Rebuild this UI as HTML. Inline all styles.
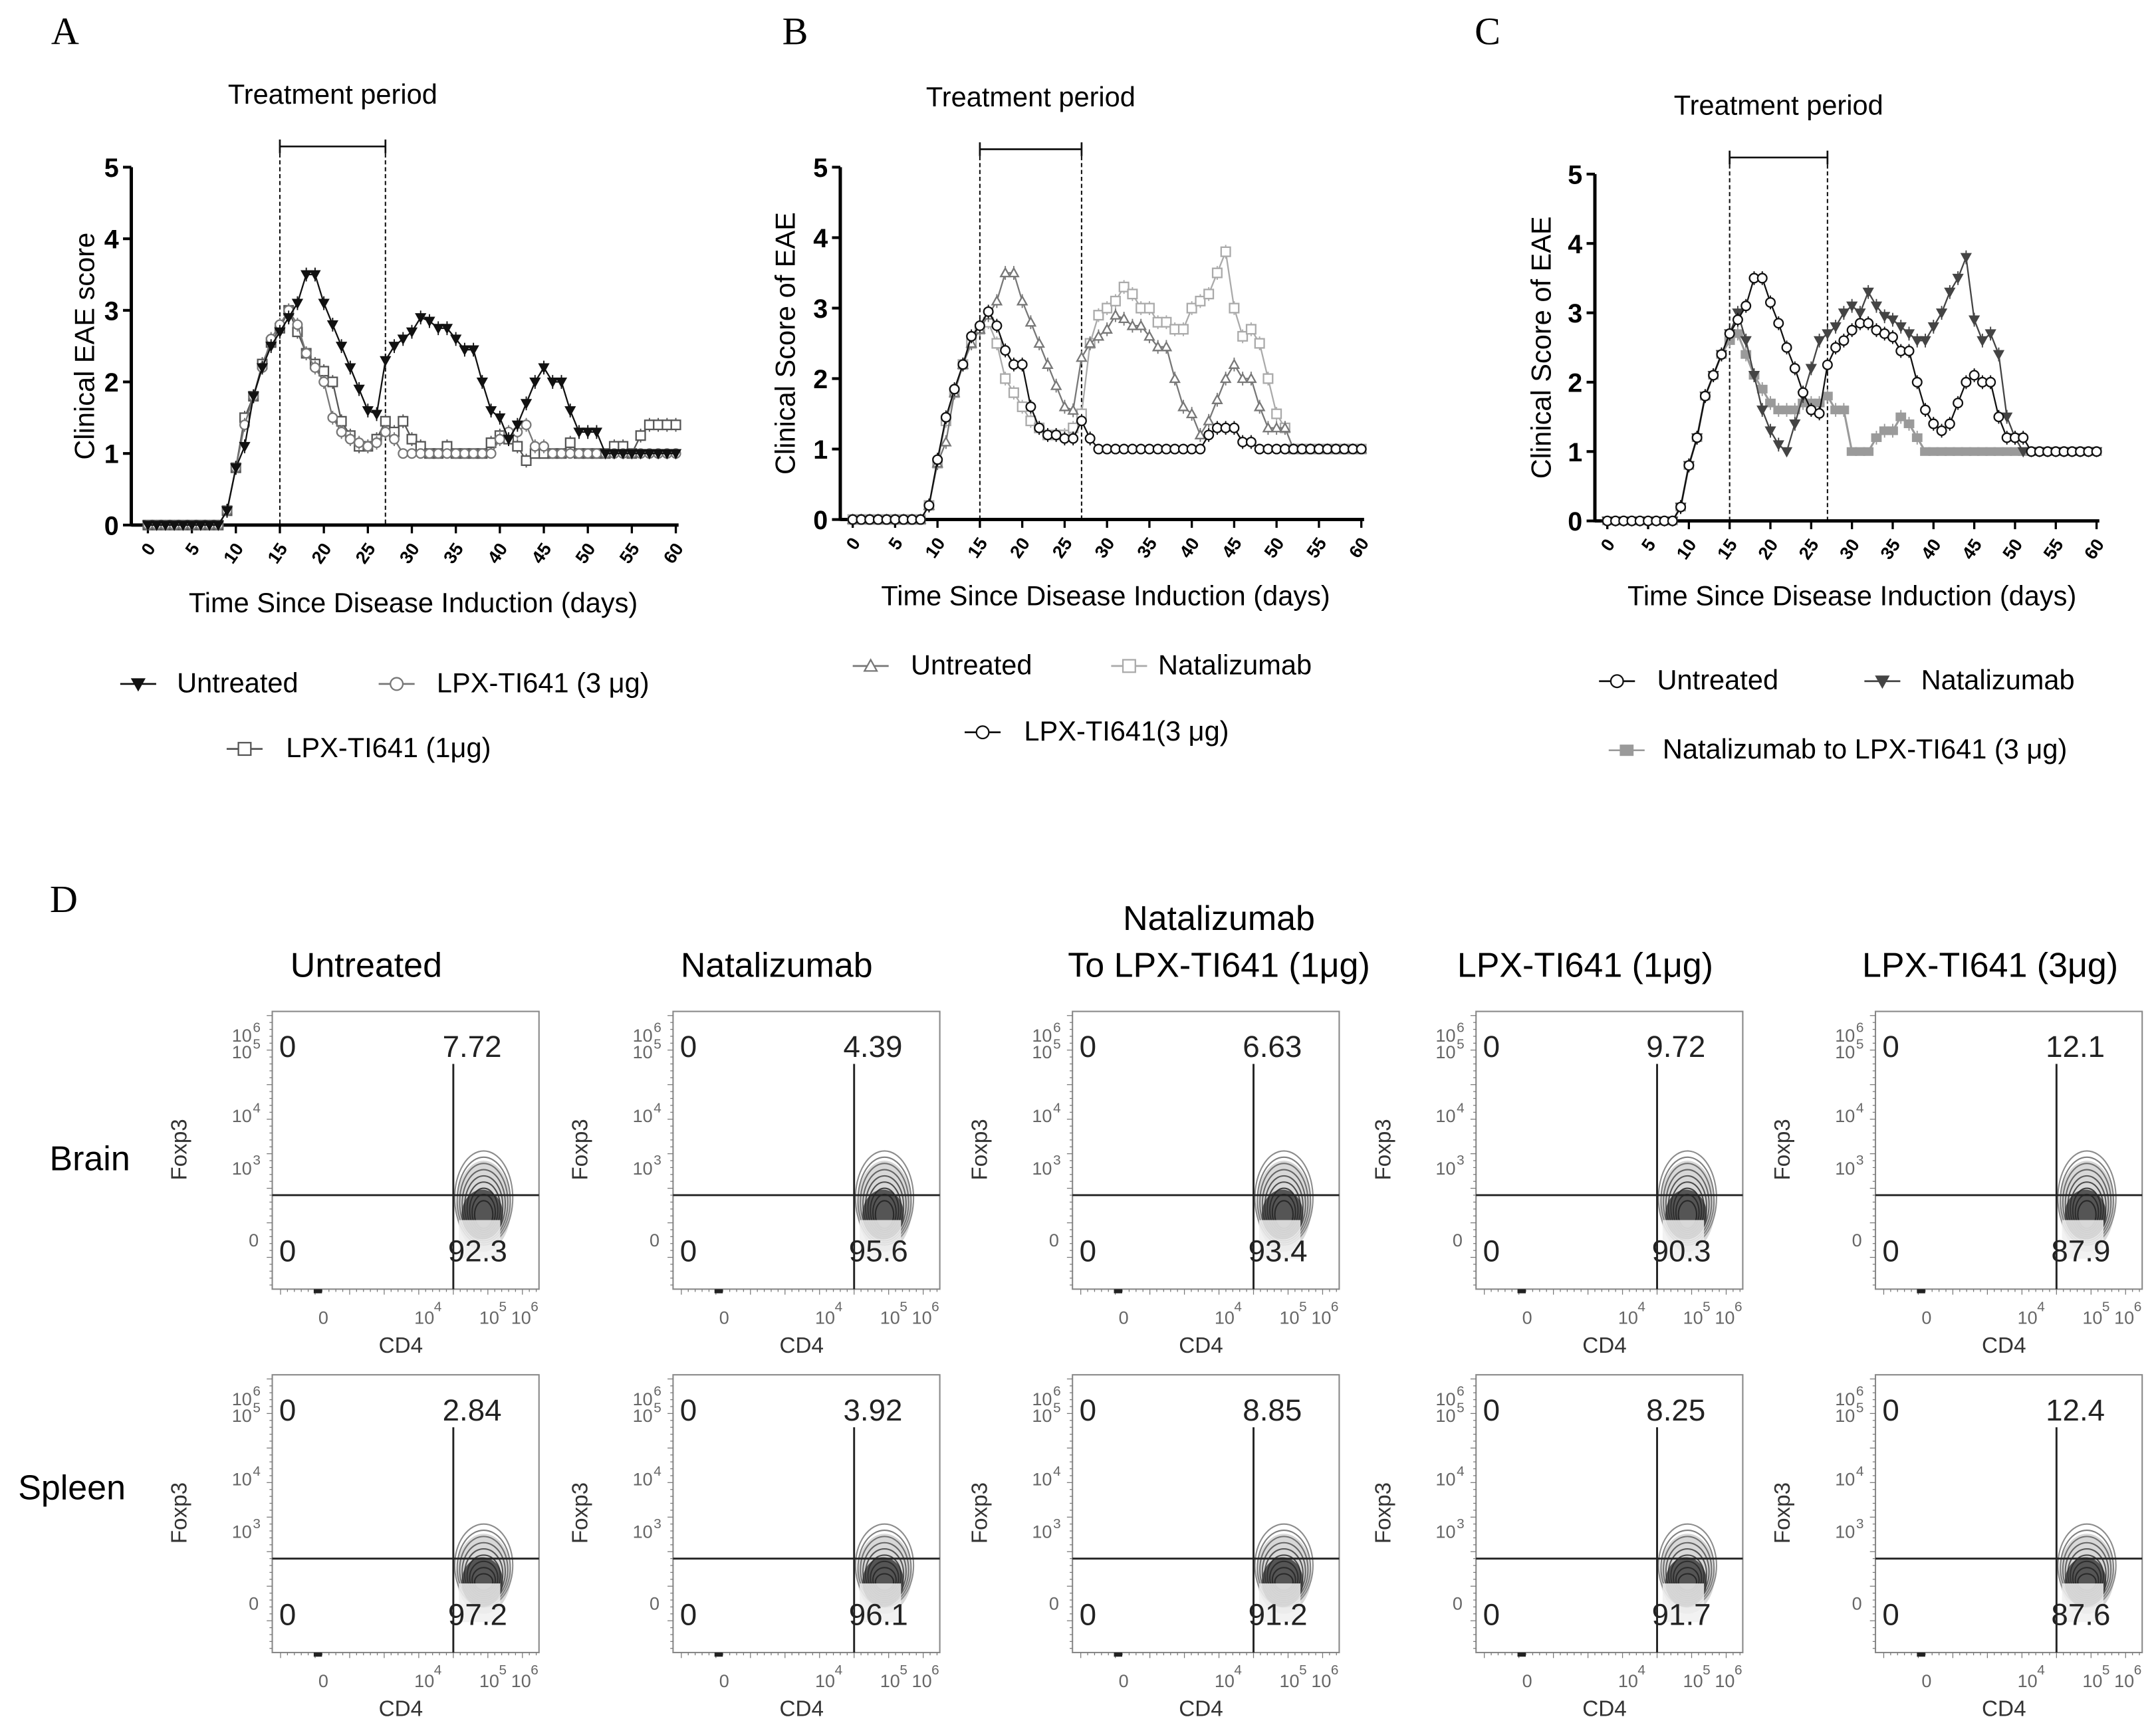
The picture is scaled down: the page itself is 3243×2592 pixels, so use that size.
<!DOCTYPE html>
<html><head><meta charset="utf-8"><style>
html,body{margin:0;padding:0;background:#fff}
svg{display:block}
svg text{font-family:"Liberation Sans",sans-serif}
svg text.serif{font-family:"Liberation Serif",serif}
</style></head><body>
<svg id="fig" width="3243" height="2592" viewBox="0 0 1560 1247" preserveAspectRatio="none" xmlns="http://www.w3.org/2000/svg">
<rect width="1560" height="1247" fill="#fff"/>
<g id="charts"></g>
<g id="flow"></g>
</svg>
<script>
// ---- Chart data ----
const days = Array.from({length:61},(_,i)=>i);
const xTicks = [0,5,10,15,20,25,30,35,40,45,50,55,60];
const yTicks = [0,1,2,3,4,5];
const aUntreated = [0,0,0,0,0,0,0,0,0,0.2,0.8,1.1,1.8,2.2,2.5,2.7,2.9,3.1,3.5,3.5,3.1,2.8,2.5,2.2,1.9,1.6,1.55,2.3,2.5,2.6,2.7,2.9,2.85,2.75,2.75,2.6,2.45,2.45,2.0,1.6,1.5,1.2,1.4,1.7,2.0,2.2,2.0,2.0,1.6,1.3,1.3,1.3,1.0,1.0,1.0,1.0,1.0,1.0,1.0,1.0,1.0];
const a3ug = [0,0,0,0,0,0,0,0,0,0.2,0.8,1.4,1.8,2.2,2.6,2.8,3.0,2.8,2.4,2.2,2.0,1.5,1.3,1.2,1.15,1.1,1.15,1.3,1.2,1.0,1.0,1.0,1.0,1.0,1.0,1.0,1.0,1.0,1.0,1.0,1.2,1.3,1.3,1.4,1.1,1.1,1.0,1.0,1.0,1.0,1.0,1.0,1.0,1.0,1.0,1.0,1.0,1.0,1.0,1.0,1.0];
const a1ug = [0,0,0,0,0,0,0,0,0,0.2,0.8,1.5,1.8,2.25,2.55,2.75,3.0,2.7,2.4,2.25,2.15,2.0,1.45,1.25,1.1,1.1,1.2,1.45,1.3,1.45,1.2,1.1,1.0,1.0,1.1,1.0,1.0,1.0,1.0,1.15,1.25,1.2,1.1,0.9,1.0,1.0,1.0,1.0,1.15,1.0,1.0,1.0,1.0,1.1,1.1,1.0,1.25,1.4,1.4,1.4,1.4];
const bUntreated = aUntreated;
const bNatalizumab = [0,0,0,0,0,0,0,0,0,0.2,0.8,1.4,1.8,2.2,2.5,2.7,2.8,2.5,2.0,1.8,1.6,1.4,1.3,1.2,1.2,1.2,1.3,1.5,2.5,2.9,3.0,3.1,3.3,3.2,3.0,3.0,2.8,2.8,2.7,2.7,3.0,3.1,3.2,3.5,3.8,3.0,2.6,2.7,2.5,2.0,1.5,1.3,1.0,1.0,1.0,1.0,1.0,1.0,1.0,1.0,1.0];
const bLpx3 = [0,0,0,0,0,0,0,0,0,0.2,0.85,1.45,1.85,2.2,2.6,2.75,2.95,2.75,2.4,2.2,2.2,1.6,1.3,1.2,1.2,1.15,1.15,1.4,1.15,1.0,1.0,1.0,1.0,1.0,1.0,1.0,1.0,1.0,1.0,1.0,1.0,1.0,1.2,1.3,1.3,1.3,1.1,1.1,1.0,1.0,1.0,1.0,1.0,1.0,1.0,1.0,1.0,1.0,1.0,1.0,1.0];
const cUntreated = [0,0,0,0,0,0,0,0,0,0.2,0.8,1.2,1.8,2.1,2.4,2.7,2.9,3.1,3.5,3.5,3.15,2.85,2.5,2.2,1.85,1.6,1.55,2.25,2.5,2.6,2.75,2.85,2.85,2.75,2.7,2.65,2.45,2.45,2.0,1.6,1.4,1.3,1.4,1.7,2.0,2.1,2.0,2.0,1.5,1.2,1.2,1.2,1.0,1.0,1.0,1.0,1.0,1.0,1.0,1.0,1.0];
const cNatalizumab = [0,0,0,0,0,0,0,0,0,0.2,0.8,1.2,1.8,2.1,2.4,2.7,3.0,2.6,2.1,1.6,1.3,1.1,1.0,1.4,1.8,2.2,2.6,2.7,2.8,3.0,3.1,3.0,3.3,3.1,2.95,2.9,2.8,2.7,2.6,2.6,2.8,3.0,3.3,3.5,3.8,2.9,2.6,2.7,2.4,1.5,1.2,1.0,1.0,1.0,1.0,1.0,1.0,1.0,1.0,1.0,1.0];
const cNatToLpx = [0,0,0,0,0,0,0,0,0,0.2,0.8,1.2,1.8,2.1,2.4,2.6,2.7,2.4,2.1,1.9,1.7,1.6,1.6,1.6,1.7,1.7,1.7,1.8,1.6,1.6,1.0,1.0,1.0,1.2,1.3,1.3,1.5,1.4,1.2,1.0,1.0,1.0,1.0,1.0,1.0,1.0,1.0,1.0,1.0,1.0,1.0,1.0,1.0,1.0,1.0,1.0,1.0,1.0,1.0,1.0,1.0];
// ---- Flow data ----
const flowColumns = ["Untreated","Natalizumab","Natalizumab|To LPX-TI641  (1μg)","LPX-TI641 (1μg)","LPX-TI641 (3μg)"];
const brainUR = ["7.72","4.39","6.63","9.72","12.1"];
const brainLR = ["92.3","95.6","93.4","90.3","87.9"];
const spleenUR = ["2.84","3.92","8.85","8.25","12.4"];
const spleenLR = ["97.2","96.1","91.2","91.7","87.6"];

const NS="http://www.w3.org/2000/svg";
function el(tag,attrs,parent,txt){const e=document.createElementNS(NS,tag);for(const k in attrs)e.setAttribute(k,attrs[k]);if(txt!==undefined)e.textContent=txt;parent.appendChild(e);return e;}

function marker(g,type,cx,cy,color,r){
  r=r||4;
  if(type==='tri'){return el('path',{d:`M${cx-r},${cy-r*0.8} L${cx+r},${cy-r*0.8} L${cx},${cy+r} Z`,fill:color,stroke:color},g);}
  if(type==='utri'){return el('path',{d:`M${cx-r},${cy+r*0.8} L${cx+r},${cy+r*0.8} L${cx},${cy-r} Z`,fill:'#fff',stroke:color,'stroke-width':1.1},g);}
  if(type==='circ'){return el('circle',{cx,cy,r:r,fill:'#fff',stroke:color,'stroke-width':1.1},g);}
  if(type==='sq'){return el('rect',{x:cx-r,y:cy-r,width:2*r,height:2*r,fill:'#fff',stroke:color,'stroke-width':1.1},g);}
  if(type==='fsq'){return el('rect',{x:cx-r,y:cy-r*0.8,width:2*r,height:1.6*r,fill:color,stroke:color},g);}
}

const root=document.getElementById('charts');
function chart(cfg){
  const g=el('g',{},root);
  
  
  const X=d=>cfg.x0+(cfg.x60-cfg.x0)*d/60;
  const Y=v=>cfg.y0+(cfg.y5-cfg.y0)*v/5;
  const pl=el('text',{x:cfg.letterX,y:32,class:'serif','font-size':28},g,cfg.letter);
  
  
  const tp=el('text',{x:(X(15)+X(27))/2,y:cfg.tpY,'font-size':20,'text-anchor':'middle'},g,'Treatment period');
  
  
  const by=cfg.tpY+31;
  el('path',{d:`M${X(15)},${by} H${X(27)} M${X(15)},${by-5} V${by+5} M${X(27)},${by-5} V${by+5}`,stroke:'#111','stroke-width':1.3,fill:'none'},g);
  for(const d of [15,27]){
    const dl=el('line',{x1:X(d),x2:X(d),y1:by,y2:cfg.y0,stroke:'#111','stroke-width':1,'stroke-dasharray':'3,2'},g);
    
    
  }
  const ax=cfg.axisX;
  el('line',{x1:ax,x2:ax,y1:cfg.y5,y2:cfg.y0+1,stroke:'#000','stroke-width':2.4},g);
  el('line',{x1:ax,x2:cfg.x60+2,y1:cfg.y0,y2:cfg.y0,stroke:'#000','stroke-width':2.4},g);
  for(const t of yTicks){
    el('line',{x1:ax-6,x2:ax,y1:Y(t),y2:Y(t),stroke:'#000','stroke-width':2},g);
    const tl=el('text',{x:ax-9,y:Y(t)+7,'font-size':19,'font-weight':'bold','text-anchor':'end'},g,String(t));
    
    
  }
  for(const t of xTicks){
    el('line',{x1:X(t),x2:X(t),y1:cfg.y0,y2:cfg.y0+6,stroke:'#000','stroke-width':1.6},g);
    const tl=el('text',{x:X(t)+6,y:cfg.y0+17,'font-size':13,'font-weight':'bold','text-anchor':'end',transform:`rotate(-55 ${X(t)+6} ${cfg.y0+17})`},g,String(t));
    
    
  }
  const xt=el('text',{x:cfg.xtX,y:cfg.xtY,'font-size':20,'text-anchor':'middle'},g,'Time Since Disease Induction (days)');
  
  
  const yc=(cfg.y0+cfg.y5)/2;
  const yt=el('text',{x:cfg.ytX,y:yc,'font-size':20,'text-anchor':'middle',transform:`rotate(-90 ${cfg.ytX} ${yc})`},g,cfg.ytitle);
  
  
  for(const s of cfg.series){
    const sg=el('g',{},g);
    
    
    let d='';
    s.data.forEach((v,i)=>{d+=(i?'L':'M')+X(days[i])+','+Y(v);});
    el('path',{d,fill:'none',stroke:s.color,'stroke-width':s.lw||1.1},sg);
    s.data.forEach((v,i)=>{
      if(v>0.05&&v!==1){el('line',{x1:X(days[i]),x2:X(days[i]),y1:Y(v)-5,y2:Y(v)+5,stroke:s.color,'stroke-width':0.9},sg);}
      const m=marker(sg,s.type,X(days[i]),Y(v),s.color,3.3);
      
      
    });
  }
  for(const L of cfg.legend){
    const lg=el('g',{},g);
    
    
    el('line',{x1:L.mx-13,x2:L.mx+13,y1:L.y-6,y2:L.y-6,stroke:L.color,'stroke-width':1.3},lg);
    marker(lg,L.type,L.mx,L.y-6,L.color,4.5);
    el('text',{x:L.tx,y:L.y,'font-size':20},lg,L.label);
  }
}

chart({name:'chart-a',letter:'A',letterX:37,x0:107,x60:489,y0:380,y5:121,axisX:95,tpY:75,xtX:299,xtY:443,ytX:68,ytitle:'Clinical EAE score',
 series:[{name:'series-lpx-1ug',data:a1ug,type:'sq',color:'#555'},{name:'series-lpx-3ug',data:a3ug,type:'circ',color:'#777'},{name:'series-untreated',data:aUntreated,type:'tri',color:'#111'}],
 legend:[{mx:100,y:501,tx:128,label:'Untreated',type:'tri',color:'#111'},{mx:287,y:501,tx:316,label:'LPX-TI641 (3 μg)',type:'circ',color:'#777'},{mx:177,y:548,tx:207,label:'LPX-TI641 (1μg)',type:'sq',color:'#555'}]});
chart({name:'chart-b',letter:'B',letterX:566,x0:617,x60:985,y0:376,y5:121,axisX:608,tpY:77,xtX:800,xtY:438,ytX:575,ytitle:'Clinical Score of EAE',
 series:[{name:'series-natalizumab',data:bNatalizumab,type:'sq',color:'#aaa'},{name:'series-untreated',data:bUntreated,type:'utri',color:'#777'},{name:'series-lpx-3ug',data:bLpx3,type:'circ',color:'#111'}],
 legend:[{mx:630,y:488,tx:659,label:'Untreated',type:'utri',color:'#777'},{mx:817,y:488,tx:838,label:'Natalizumab',type:'sq',color:'#aaa'},{mx:711,y:536,tx:741,label:'LPX-TI641(3 μg)',type:'circ',color:'#111'}]});
chart({name:'chart-c',letter:'C',letterX:1067,x0:1163,x60:1517,y0:377,y5:126,axisX:1154,tpY:83,xtX:1340,xtY:438,ytX:1122,ytitle:'Clinical Score of EAE',
 series:[{name:'series-nat-to-lpx',data:cNatToLpx,type:'fsq',color:'#9a9a9a',lw:1.5},{name:'series-natalizumab',data:cNatalizumab,type:'tri',color:'#444'},{name:'series-untreated',data:cUntreated,type:'circ',color:'#111'}],
 legend:[{mx:1170,y:499,tx:1199,label:'Untreated',type:'circ',color:'#111'},{mx:1362,y:499,tx:1390,label:'Natalizumab',type:'tri',color:'#444'},{mx:1177,y:549,tx:1203,label:'Natalizumab to LPX-TI641 (3 μg)',type:'fsq',color:'#9a9a9a'}]});

// ---- Flow panels ----
const fr=document.getElementById('flow');
const dl=el('text',{x:36,y:660,class:'serif','font-size':28},fr,'D');


const rb=el('text',{x:65,y:847,'font-size':25,'text-anchor':'middle'},fr,'Brain');


const rs=el('text',{x:52,y:1085,'font-size':25,'text-anchor':'middle'},fr,'Spleen');


const colX=[197,487,776,1068,1357];
const colTitleX=[265,562,882,1147,1440];
flowColumns.forEach((t,c)=>{
  const parts=t.split('|');
  parts.forEach((p,k)=>{
    const ct=el('text',{x:colTitleX[c],y:(parts.length>1?673+k*34:707),'font-size':25,'text-anchor':'middle'},fr,p);
    
    
  });
  [[732,brainUR[c],brainLR[c]],[995,spleenUR[c],spleenLR[c]]].forEach(([by,ur,lr],r)=>{
    const bx=colX[c];
    const g=el('g',{},fr);
    
    
    el('rect',{x:bx,y:by,width:193,height:201,fill:'#fff',stroke:'#888','stroke-width':1},g);
    for(let i=0;i<40;i++){el('line',{x1:bx-(i%5?2:4),x2:bx,y1:by+5*i+3,y2:by+5*i+3,stroke:'#777','stroke-width':0.6},g);}
    for(let i=0;i<38;i++){el('line',{x1:bx+5*i+6,x2:bx+5*i+6,y1:by+201,y2:by+201+(i%5?2:4),stroke:'#777','stroke-width':0.6},g);}
    el('rect',{x:bx+30,y:by+201,width:6,height:3,fill:'#222'},g);
    const cx=bx+153, cy=by+(r?138:135);
    el('ellipse',{cx,cy:cy+6,rx:20,ry:(r?29:33),fill:'#d8d8d8'},g);
    for(let k=0;k<9;k++){el('ellipse',{cx,cy:cy+k*1.5,rx:21-k*1.8,ry:(r?30:34)-k*3,fill:'none',stroke:`rgb(${140-k*13},${140-k*13},${140-k*13})`,'stroke-width':1},g);}
    el('ellipse',{cx:cx-1,cy:cy+12,rx:15,ry:18,fill:'#2a2a2a',opacity:0.75},g);
    el('rect',{x:bx+135,y:by+151,width:30,height:28,fill:'#f0f0f0',opacity:0.85},g);
    el('line',{x1:bx,x2:bx+193,y1:by+133,y2:by+133,stroke:'#222','stroke-width':1.4},g);
    el('line',{x1:bx+131,x2:bx+131,y1:by+38,y2:by+201,stroke:'#222','stroke-width':1.4},g);
    el('text',{x:bx+5,y:by+33,'font-size':22,fill:'#222'},g,'0');
    el('text',{x:bx+5,y:by+181,'font-size':22,fill:'#222'},g,'0');
    const u=el('text',{x:bx+166,y:by+33,'font-size':22,'text-anchor':'end',fill:'#222'},g,ur);
    
    
    const l=el('text',{x:bx+170,y:by+181,'font-size':22,'text-anchor':'end',fill:'#222'},g,lr);
    
    
    const ylab=[['10','6',22],['10','5',34],['10','4',80],['10','3',118]];
    ylab.forEach(([b,e,yy])=>{el('text',{x:bx-22,y:by+yy,'font-size':13,fill:'#666','text-anchor':'middle'},g,b);el('text',{x:bx-14,y:by+yy-7,'font-size':10,fill:'#666'},g,e);});
    el('text',{x:bx-17,y:by+170,'font-size':13,fill:'#666'},g,'0');
    el('text',{x:bx+37,y:by+226,'font-size':13,fill:'#666','text-anchor':'middle'},g,'0');
    [['10','4',bx+115],['10','5',bx+162],['10','6',bx+185]].forEach(([b,e,xx])=>{el('text',{x:xx-5,y:by+226,'font-size':13,fill:'#666','text-anchor':'middle'},g,b);el('text',{x:xx+2,y:by+217,'font-size':10,fill:'#666'},g,e);});
    const xl=el('text',{x:bx+93,y:by+247,'font-size':16,fill:'#333','text-anchor':'middle'},g,'CD4');
    
    
    const fx=bx-62, fy=by+100;
    const yl=el('text',{x:fx,y:fy,'font-size':16,fill:'#333','text-anchor':'middle',transform:`rotate(-90 ${fx} ${fy})`},g,'Foxp3');
    
    
  });
});
</script>
</body></html>
